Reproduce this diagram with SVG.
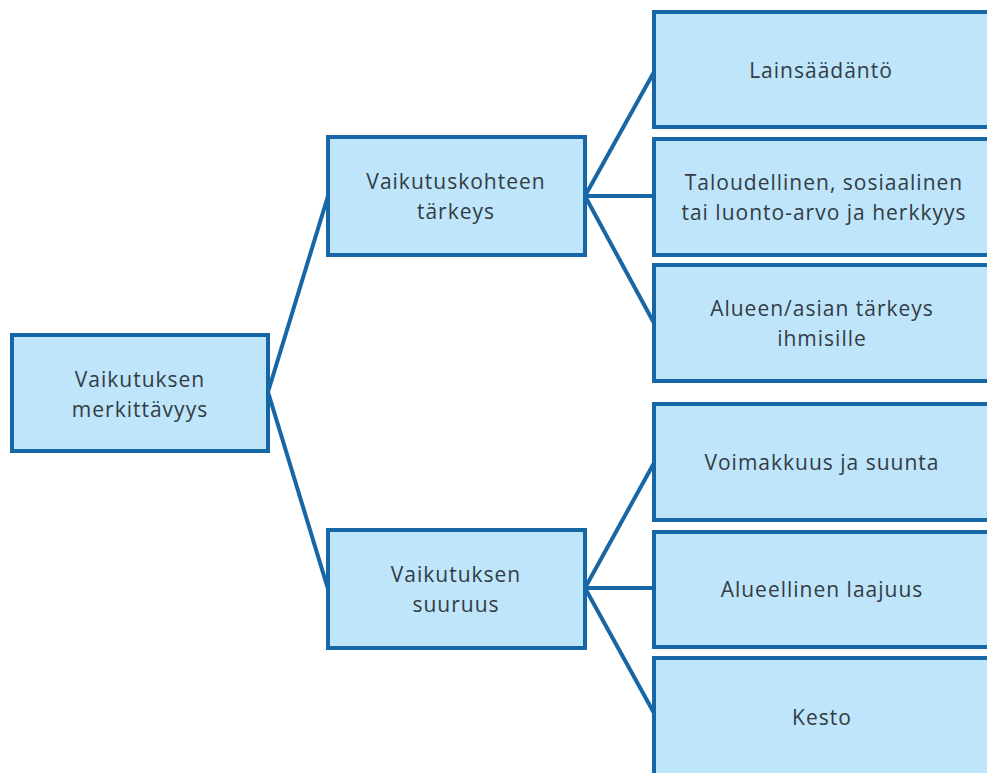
<svg xmlns="http://www.w3.org/2000/svg" width="987" height="773" viewBox="0 0 987 773">
<style>
.box{fill:#BEE5FA;stroke:#1767A6;stroke-width:4}
.t{font-family:"Open Sans","Liberation Sans",sans-serif;font-size:21px;letter-spacing:1px;fill:#333B44;text-anchor:middle}
.c{stroke:#1767A6;stroke-width:4;fill:none}
</style>
<rect width="987" height="773" fill="#fff"/>
<g id="connectors">
<path class="c" d="M328,196 L268,392 L328,589"/>
<path class="c" d="M654,72 L585,196 L654,323 M585,196 L654,196"/>
<path class="c" d="M654,463 L585,588 L654,713 M585,588 L654,588"/>
</g>
<g id="n-root"><rect class="box" x="12" y="335" width="256" height="116"/>
<text class="t" x="140" y="387">Vaikutuksen</text><text class="t" x="140" y="417">merkittävyys</text></g>
<g id="n-tarkeys"><rect class="box" x="328" y="137" width="257" height="118"/>
<text class="t" x="456" y="189">Vaikutuskohteen</text><text class="t" x="456" y="219">tärkeys</text></g>
<g id="n-suuruus"><rect class="box" x="328" y="530" width="257" height="118"/>
<text class="t" x="456" y="582">Vaikutuksen</text><text class="t" x="456" y="612">suuruus</text></g>
<g id="n-laki"><rect class="box" x="654" y="12" width="340" height="115"/>
<text class="t" x="821" y="78">Lainsäädäntö</text></g>
<g id="n-arvo"><rect class="box" x="654" y="139" width="340" height="116"/>
<text class="t" x="824" y="190">Taloudellinen, sosiaalinen</text><text class="t" x="824" y="220">tai luonto-arvo ja herkkyys</text></g>
<g id="n-ihmiset"><rect class="box" x="654" y="265" width="340" height="116"/>
<text class="t" x="822" y="316">Alueen/asian tärkeys</text><text class="t" x="822" y="346">ihmisille</text></g>
<g id="n-voima"><rect class="box" x="654" y="404" width="340" height="116"/>
<text class="t" x="822" y="470">Voimakkuus ja suunta</text></g>
<g id="n-laajuus"><rect class="box" x="654" y="532" width="340" height="115"/>
<text class="t" x="822" y="597">Alueellinen laajuus</text></g>
<g id="n-kesto"><rect class="box" x="654" y="658" width="340" height="130"/>
<text class="t" x="822" y="725">Kesto</text></g>
</svg>
